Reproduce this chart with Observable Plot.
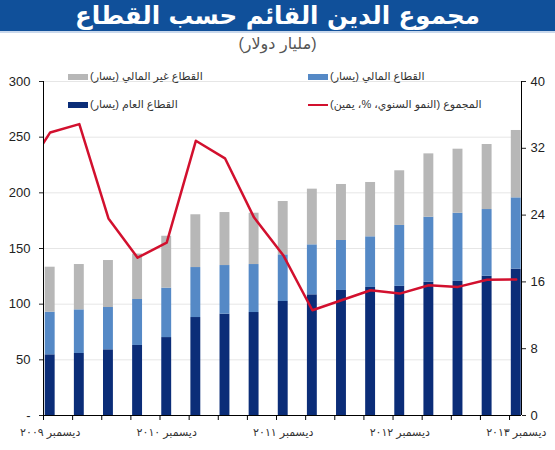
<!DOCTYPE html>
<html><head><meta charset="utf-8">
<script src="https://cdn.jsdelivr.net/npm/d3@7"></script>
<script src="https://cdn.jsdelivr.net/npm/@observablehq/plot@0.6"></script>
<style>
html,body{margin:0;padding:0;background:#fff}
body{width:555px;height:450px;position:relative;overflow:hidden;font-family:"Liberation Sans","DejaVu Sans",Arial,sans-serif}
#title{background:#10509a;color:#fff;height:31px;line-height:31px;text-align:center;font-size:24.5px;font-weight:bold;direction:rtl;font-family:"DejaVu Sans",sans-serif;border-bottom:2px solid #c9d8ec}
#sub{text-align:center;font-size:16px;color:#555;direction:rtl;height:22px;line-height:22px;margin-top:0px}
#chart{position:absolute;left:0;top:56px}
.leg{position:absolute;display:flex;align-items:center;font-size:11px;color:#333;white-space:nowrap}
.leg .sw{width:20px;height:6px;margin-right:2px}
.leg .ln{width:20px;height:2px;margin-right:2px}
.leg span{direction:rtl}
</style></head>
<body>
<div id="title">مجموع الدين القائم حسب القطاع</div>
<div id="sub">(مليار دولار)</div>
<div id="chart"></div>
<div id="legend"></div>
<script>
// Quarterly, Dec 2009 .. Dec 2013 (billion USD)
const publicSector      = [54.5, 55.7, 59.0, 62.9, 70.0, 88.0, 91.0, 92.5, 102.4, 108.4, 112.3, 115.0, 116.0, 119.7, 120.4, 125.1, 131.5];
const financialSector   = [38.3, 39.2, 38.0, 41.3, 44.4, 44.9, 43.7, 43.1, 41.9, 44.9, 44.9, 45.5, 54.7, 58.4, 61.3, 59.9, 64.0];
const nonFinancialSector= [40.4, 40.7, 42.2, 40.8, 46.6, 47.4, 47.6, 46.1, 47.9, 50.0, 50.3, 48.8, 49.1, 56.9, 57.5, 58.4, 60.5];
// Total annual growth (%), Sep 2009 .. Dec 2013 (first value lies before the axis and is clipped)
const totalGrowth = [28.5, 33.9, 34.9, 23.6, 18.9, 20.7, 32.9, 30.8, 23.7, 19.2, 12.6, 13.8, 15.0, 14.6, 15.6, 15.4, 16.25, 16.3];
const xTickLabels = ["ديسمبر ٢٠٠٩","ديسمبر ٢٠١٠","ديسمبر ٢٠١١","ديسمبر ٢٠١٢","ديسمبر ٢٠١٣"];
const leftTicks  = [0, 50, 100, 150, 200, 250, 300];
const rightTicks = [0, 8, 16, 24, 32, 40];
const seriesNames = {
  non: "القطاع غير المالي (يسار)",
  fin: "القطاع المالي (يسار)",
  pub: "القطاع العام (يسار)",
  growth: "المجموع (النمو السنوي، %، يمين)"
};
const colors = {pub:"#0b2d78", fin:"#5589c6", non:"#b7b7b7", growth:"#d2102e"};

const K = 300/40;
const n = publicSector.length;
const rows = d3.range(n).map(i => ({
  i, a: publicSector[i], b: publicSector[i] + financialSector[i],
  c: publicSector[i] + financialSector[i] + nonFinancialSector[i]
}));
const growthPts = totalGrowth.map((g, k) => ({i: k - 1, g}));
const half = 0.17, off = 0.23;
const labelIdx = xTickLabels.map((_, k) => k * 4);

const plot = Plot.plot({
  width: 555, height: 394,
  marginTop: 25, marginBottom: 35, marginLeft: 43, marginRight: 34,
  style: {fontFamily: '"Liberation Sans","DejaVu Sans",sans-serif', background: "transparent"},
  x: {type: "linear", domain: [-off, n - 1 + 0.18], axis: null, label: null},
  y: {domain: [0, 300], axis: null, label: null},
  marks: [
    Plot.gridY(leftTicks.slice(1), {stroke: "#e6e6e6", strokeOpacity: 1}),
    Plot.rectY(rows, {x1: d => d.i - half, x2: d => d.i + half, y1: 0, y2: "a", fill: colors.pub}),
    Plot.rectY(rows, {x1: d => d.i - half, x2: d => d.i + half, y1: "a", y2: "b", fill: colors.fin}),
    Plot.rectY(rows, {x1: d => d.i - half, x2: d => d.i + half, y1: "b", y2: "c", fill: colors.non}),
    Plot.line(growthPts, {x: "i", y: d => d.g * K, stroke: colors.growth, strokeWidth: 2.5, clip: true}),
    Plot.ruleX([-off], {stroke: "#000"}),
    Plot.ruleX([n - 1 + 0.18], {stroke: "#000"}),
    Plot.ruleY([0], {stroke: "#000"}),
    Plot.axisY(leftTicks, {anchor: "left", tickSize: 4, tickPadding: 9, fontSize: 13, color: "#222", label: null,
      tickFormat: d => d === 0 ? "-" : String(d)}),
    Plot.axisY(rightTicks.map(v => v * K), {anchor: "right", tickSize: 4, tickPadding: 5, fontSize: 13, color: "#222", label: null,
      tickFormat: d => String(Math.round(d / K))}),
    Plot.axisX(d3.range(n).map(i => i - off), {anchor: "bottom", tickSize: 5, tickFormat: () => "", color: "#000", label: null}),
    Plot.axisX(labelIdx, {anchor: "bottom", tickSize: 0, tickPadding: 13, fontSize: 11, color: "#333", label: null,
      tickFormat: (d, k) => xTickLabels[k]})
  ]
});
document.getElementById("chart").appendChild(plot);

// legend
const legend = document.getElementById("legend");
const items = [
  {key: "non", left: 68, top: 70, type: "sw"},
  {key: "fin", left: 308, top: 70, type: "sw"},
  {key: "pub", left: 68, top: 98, type: "sw"},
  {key: "growth", left: 308, top: 98, type: "ln"}
];
for (const it of items) {
  const div = document.createElement("div");
  div.className = "leg";
  div.style.left = it.left + "px";
  div.style.top = it.top + "px";
  const sw = document.createElement("div");
  sw.className = it.type;
  sw.style.background = colors[it.key];
  const sp = document.createElement("span");
  sp.textContent = seriesNames[it.key];
  div.appendChild(sw); div.appendChild(sp);
  legend.appendChild(div);
}
</script>
</body></html>
